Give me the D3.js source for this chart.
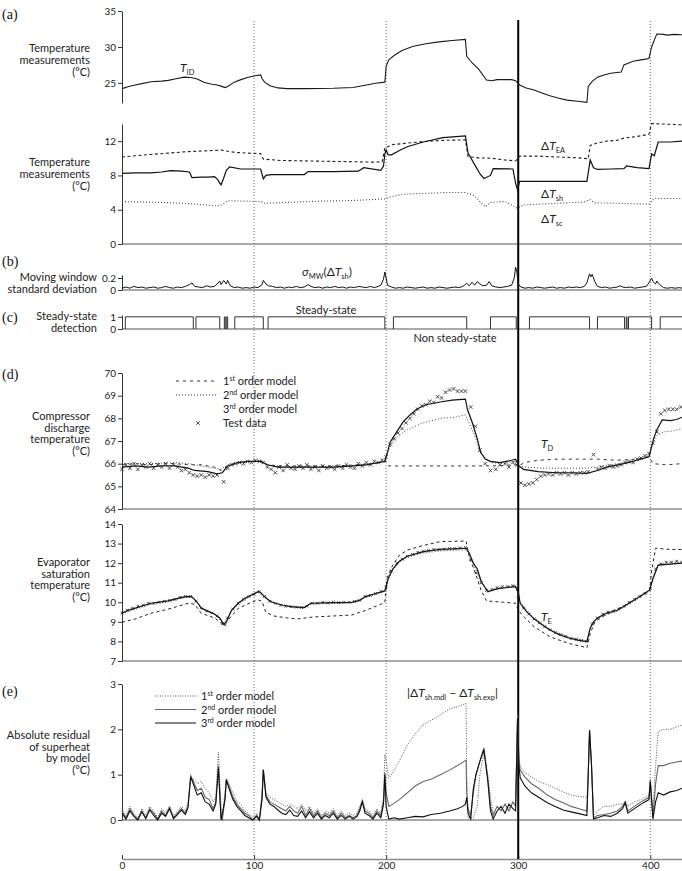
<!DOCTYPE html>
<html>
<head>
<meta charset="utf-8">
<script src="https://cdn.jsdelivr.net/npm/d3@7"></script>
<style>
body { margin: 0; background: #fff; }
.font { font-family: Lato, "Open Sans", sans-serif; fill: #222; }
.serif { font-family: "Liberation Serif", serif; fill: #111; font-size: 14px; }
.tick text { font-family: Lato, sans-serif; font-size: 10px; fill: #222; }
</style>
</head>
<body>
<svg id="chart" width="682" height="871"></svg>
<script>
// ---- data: [time (min), value] ----
const T_ID = [[0,24.2],[5,24.5],[10,24.7],[15,24.9],[22,25.15],[30,25.25],[35,25.35],[40,25.55],[47,25.8],[52,25.75],[57,25.55],[62,25.1],[67,24.85],[72,24.7],[75,24.55],[78,24.35],[80,24.5],[85,25.1],[90,25.45],[95,25.75],[100,25.95],[105,26.1],[106,25.6],[108,25.1],[112,24.6],[118,24.3],[125,24.2],[140,24.2],[160,24.25],[175,24.35],[185,24.7],[192,24.95],[199,25.1],[200,27.3],[202,28.2],[206,28.8],[212,29.5],[220,30.05],[230,30.45],[240,30.7],[250,30.9],[260,31.05],[261,28.7],[265,27.8],[270,26.9],[276,25.4],[280,25.3],[284,25.45],[295,25.45],[298,25.3],[301,24.7],[306,24.3],[312,24.0],[318,23.6],[324,23.2],[330,22.9],[337,22.6],[345,22.45],[352,22.3],[353,24.5],[356,25.2],[360,25.8],[365,26.1],[370,26.35],[378,26.5],[380,27.5],[387,28.0],[393,28.2],[399,28.4],[401,30.0],[404,31.4],[405,31.8],[410,31.75],[413,31.65],[418,31.75],[424,31.7]];

const DT_EA = [[0,10.15],[10,10.3],[22,10.45],[35,10.6],[47,10.75],[60,10.85],[75,10.95],[85,10.7],[95,10.6],[105,10.55],[107,9.9],[120,9.75],[136,9.7],[155,9.65],[175,9.6],[190,9.55],[197,9.6],[199,11.2],[205,11.6],[215,11.75],[228,11.95],[245,12.1],[260,12.15],[262,10.2],[270,10.05],[280,10.0],[290,9.8],[298,9.7],[301,10.25],[315,10.25],[330,10.15],[345,10.05],[353,9.95],[354.5,11.5],[360,11.8],[367,12.0],[375,12.1],[380,12.35],[390,12.55],[399,12.8],[401,14.05],[410,14.0],[424,13.9]];
const DT_SH = [[0,8.25],[10,8.3],[22,8.3],[30,8.4],[37,8.55],[45,8.5],[51,8.4],[53,7.75],[60,7.8],[65,7.8],[70,7.85],[72,7.6],[75,6.9],[77,7.7],[79,8.6],[81.5,9.0],[90,8.75],[105,8.75],[107,7.6],[109,8.0],[113,8.1],[125,8.1],[138,8.1],[141,8.45],[160,8.45],[179,8.5],[183,8.9],[196,8.6],[198,9.1],[199,10.5],[200,11.0],[201.5,10.4],[204,10.4],[210,10.9],[216,11.35],[228,11.9],[243,12.4],[260,12.6],[262,10.6],[268,9.0],[271,8.2],[274,7.65],[279,8.0],[281,8.8],[296,8.75],[298,7.1],[299.5,6.3],[301,7.3],[320,7.3],[340,7.3],[352,7.3],[354.5,9.8],[357,8.9],[360,8.7],[370,8.75],[380,8.8],[382,9.1],[390,8.9],[399,8.8],[401,10.5],[403,10.3],[406,11.9],[415,11.9],[424,12.0]];
const DT_SC = [[0,4.95],[15,4.9],[30,4.85],[47,4.75],[60,4.6],[72,4.45],[76,4.6],[80,5.05],[95,5.0],[105,4.95],[108,4.75],[125,4.85],[148,5.0],[170,5.05],[199,5.25],[202,5.45],[212,5.8],[228,5.9],[245,6.0],[260,6.0],[266,5.7],[275,4.35],[279,4.85],[290,4.95],[299,4.2],[304,4.55],[330,4.75],[350,4.9],[354,5.2],[358,4.8],[375,4.75],[399,4.65],[403,5.3],[424,5.3]];

const SIGMA = [[0,0.03],[3,0.05],[6,0.03],[9,0.06],[12,0.04],[15,0.05],[18,0.03],[21,0.04],[24,0.05],[27,0.03],[30,0.04],[33,0.06],[36,0.04],[39,0.03],[42,0.05],[45,0.04],[48,0.06],[51,0.09],[53,0.12],[55,0.06],[58,0.05],[61,0.04],[64,0.07],[67,0.05],[70,0.06],[72,0.1],[74,0.15],[75,0.09],[77,0.16],[79,0.1],[80,0.16],[82,0.07],[85,0.04],[88,0.05],[91,0.03],[94,0.04],[97,0.03],[100,0.05],[103,0.04],[106,0.09],[107,0.16],[109,0.1],[111,0.07],[114,0.06],[117,0.04],[120,0.05],[123,0.03],[126,0.05],[129,0.04],[132,0.06],[135,0.04],[138,0.05],[141,0.09],[143,0.06],[146,0.04],[149,0.05],[152,0.03],[155,0.05],[158,0.04],[161,0.06],[164,0.04],[167,0.05],[170,0.03],[173,0.05],[176,0.04],[179,0.06],[182,0.05],[185,0.04],[188,0.06],[191,0.04],[194,0.06],[196,0.08],[198,0.18],[199,0.3],[200,0.2],[201,0.08],[204,0.05],[207,0.03],[210,0.04],[213,0.03],[216,0.05],[219,0.04],[222,0.03],[225,0.04],[228,0.05],[231,0.03],[234,0.04],[237,0.03],[240,0.05],[243,0.04],[246,0.03],[249,0.04],[252,0.05],[255,0.04],[258,0.06],[261,0.11],[263,0.07],[265,0.13],[267,0.08],[269,0.14],[271,0.1],[273,0.07],[276,0.08],[278,0.14],[280,0.07],[283,0.05],[286,0.04],[289,0.05],[292,0.06],[295,0.08],[297,0.2],[298,0.38],[299,0.3],[300,0.1],[302,0.05],[305,0.03],[308,0.04],[311,0.03],[314,0.05],[317,0.04],[320,0.03],[323,0.04],[326,0.05],[329,0.03],[332,0.04],[335,0.03],[338,0.05],[341,0.04],[344,0.05],[347,0.04],[350,0.06],[352,0.12],[354,0.27],[355,0.22],[356,0.26],[358,0.14],[360,0.06],[363,0.04],[366,0.05],[369,0.03],[372,0.04],[375,0.05],[377,0.07],[379,0.05],[382,0.04],[385,0.05],[388,0.03],[391,0.04],[394,0.05],[397,0.06],[399,0.12],[401,0.2],[402,0.14],[404,0.1],[405,0.15],[407,0.09],[410,0.04],[413,0.03],[416,0.04],[419,0.03],[422,0.04],[424,0.03]];

// steady-state intervals [start, end]
const STEADY = [[2.5,54],[56,74],[77.5,78.2],[79.3,80],[85.4,107],[110.6,199],[205.5,261],[279,298.5],[308.5,354],[360,380.5],[381.8,382.4],[383.5,401],[407.5,424]];

const TD_M1 = [[0,65.95],[10,66.0],[20,65.95],[30,66.0],[40,66.0],[50,65.95],[60,65.95],[70,65.85],[75,65.7],[80,65.9],[88,66.05],[95,66.1],[105,66.1],[110,65.95],[120,65.9],[140,65.9],[160,65.9],[180,65.95],[195,66.05],[200,66.1],[202,65.9],[220,65.9],[240,65.9],[260,65.9],[280,65.9],[298,65.95],[300,65.9],[305,66.05],[315,66.15],[330,66.2],[345,66.2],[360,66.2],[375,66.15],[390,66.2],[399,66.3],[402,66.0],[412,65.95],[424,66.0]];
const TD_M2 = [[0,66.0],[20,66.0],[40,66.05],[50,66.0],[60,65.9],[70,65.8],[75,65.75],[80,65.95],[90,66.05],[100,66.1],[105,66.15],[110,65.95],[120,65.85],[140,65.85],[160,65.85],[180,65.95],[195,66.05],[199,66.15],[201,66.5],[205,66.95],[210,67.25],[216,67.5],[228,67.8],[241,68.0],[252,68.05],[260,68.15],[262,67.9],[265,67.5],[268,67.1],[271,66.5],[276,66.2],[280,66.05],[290,66.0],[298,66.1],[300,65.9],[305,65.85],[320,65.8],[340,65.8],[350,65.8],[360,65.85],[375,66.0],[390,66.15],[399,66.35],[402,66.9],[405,67.25],[410,67.4],[418,67.45],[424,67.55]];
const TD_M3 = [[0,65.85],[10,65.9],[20,65.85],[30,65.9],[40,65.9],[50,65.8],[55,65.7],[65,65.65],[72,65.55],[76,65.6],[80,65.9],[88,66.05],[95,66.1],[105,66.1],[110,65.95],[118,65.85],[130,65.85],[145,65.85],[160,65.85],[175,65.9],[185,65.95],[195,66.05],[199,66.1],[201,66.5],[203,66.95],[208,67.4],[213,67.85],[218,68.15],[223,68.4],[230,68.6],[241,68.72],[250,68.8],[260,68.85],[261.5,68.4],[265,67.85],[269,67.1],[271.5,66.5],[275,66.2],[279,66.1],[286,66.05],[295,66.15],[298,66.2],[300.5,65.9],[304,65.75],[315,65.65],[329,65.6],[340,65.6],[352,65.57],[360,65.7],[367,65.85],[380,66.0],[390,66.15],[399,66.3],[402.5,67.1],[405,67.5],[409,67.93],[415,67.9],[420,67.95],[424,68.05]];
const TD_TEST = [[0,65.75],[3,65.95],[6,65.8],[9,66.0],[12,65.75],[15,65.95],[18,65.85],[21,66.0],[24,65.8],[27,65.95],[30,65.85],[33,66.0],[36,65.8],[39,65.95],[42,65.85],[45,65.7],[48,65.75],[51,65.6],[54,65.5],[57,65.45],[60,65.5],[63,65.4],[66,65.5],[69,65.45],[72,65.5],[77,65.2],[80,65.8],[83,65.95],[86,66.0],[89,66.05],[92,66.0],[95,66.1],[98,66.05],[101,66.15],[104,66.1],[107,66.05],[110,65.85],[113,65.75],[116,65.6],[119,65.85],[122,65.7],[125,65.95],[128,65.8],[131,65.75],[134,65.9],[137,65.8],[140,65.95],[143,65.75],[146,65.85],[149,65.7],[152,65.9],[155,65.8],[158,65.85],[161,65.75],[164,65.9],[167,65.8],[170,65.95],[173,65.85],[176,65.8],[179,66.0],[182,65.9],[185,66.05],[188,65.95],[191,66.1],[194,66.05],[197,66.15],[200,66.3],[203,66.85],[206,67.1],[209,67.35],[212,67.55],[215,67.8],[218,68.0],[221,68.2],[224,68.4],[227,68.55],[230,68.6],[233,68.75],[236,68.7],[239,68.95],[242,68.9],[245,69.15],[248,69.25],[251,69.3],[254,69.2],[257,69.2],[260,69.2],[264,68.5],[267.5,67.65],[271,66.6],[275,66.0],[279,65.7],[283,65.75],[286,65.95],[290,66.0],[293,65.85],[296,66.05],[299,65.95],[302,65.15],[305,65.05],[308,65.1],[311,65.15],[314,65.3],[317,65.45],[320,65.5],[323,65.55],[326,65.5],[329,65.6],[332,65.55],[335,65.6],[338,65.5],[341,65.6],[344,65.55],[347,65.6],[350,65.6],[353,65.65],[357,66.4],[360,65.75],[363,65.85],[366,65.8],[369,65.9],[372,65.85],[375,65.9],[378,65.95],[381,66.05],[384,66.1],[387,66.05],[390,66.2],[393,66.25],[396,66.35],[399,66.45],[402,66.9],[405,67.4],[408,68.2],[411,68.35],[414,68.4],[417,68.4],[420,68.4],[423,68.5]];

const TE_M1 = [[0,8.98],[10,9.15],[22,9.44],[35,9.65],[50,9.95],[55,9.9],[60,9.44],[70,9.2],[77,8.85],[83,9.3],[88,9.69],[98,10.0],[103,10.12],[106,10.05],[109,9.49],[115,9.3],[125,9.2],[133,9.15],[145,9.25],[160,9.3],[174,9.35],[185,9.6],[196,9.9],[199,10.0],[201,11.3],[205,11.9],[210,12.4],[216,12.67],[228,12.9],[241,13.1],[260.5,13.13],[263,12.3],[268,11.4],[272,10.6],[276,10.07],[289,10.0],[298,9.95],[300,9.6],[303,9.35],[312,8.75],[324,8.24],[338,7.9],[352,7.68],[354.5,8.4],[358,9.0],[367,9.4],[380,9.82],[390,10.2],[399.5,10.58],[401,11.6],[404,12.76],[415,12.7],[424,12.7]];
const TE_M2 = [[0,9.4],[10,9.65],[22,9.9],[35,10.05],[45,10.2],[50,10.25],[53,10.25],[57,10.0],[60,9.7],[70,9.4],[77,8.9],[83,9.55],[88,9.9],[98,10.35],[103,10.5],[108,10.25],[116,9.95],[128,9.75],[138,9.72],[143,9.92],[174,9.98],[184,10.25],[199,10.55],[201.5,11.15],[205,11.65],[210,12.05],[216,12.3],[228,12.52],[241,12.62],[260.5,12.68],[263,12.45],[266,11.95],[272,11.0],[277,10.6],[286,10.75],[298,10.85],[301.5,10.0],[311.6,9.22],[324,8.62],[339,8.2],[352,8.02],[354.5,8.7],[360,9.2],[375,9.55],[385,9.95],[399.5,10.55],[402,11.3],[406,11.95],[415,12.05],[424,12.05]];
const TE_M3 = [[0,9.44],[5,9.6],[10,9.7],[22,9.95],[35,10.07],[45,10.25],[50,10.3],[53,10.28],[57,10.0],[60,9.7],[65,9.55],[70,9.4],[74,9.2],[77,8.87],[79,9.0],[83,9.6],[88,9.95],[93,10.2],[98,10.37],[103,10.54],[105,10.5],[108,10.28],[112,10.05],[116,9.95],[122,9.85],[128,9.78],[138,9.73],[143,9.95],[160,9.98],[174,10.0],[180,10.1],[184,10.28],[192,10.45],[199,10.58],[201.5,11.2],[205,11.7],[210,12.1],[216,12.35],[228,12.59],[241,12.7],[250,12.73],[260.5,12.76],[263,12.5],[266,12.0],[269,11.7],[272,11.06],[277,10.54],[282,10.65],[286,10.71],[298,10.8],[300,10.5],[301.5,9.95],[306,9.55],[311.6,9.18],[318,8.85],[324,8.58],[331,8.35],[339,8.16],[346,8.05],[352,7.99],[354.5,8.67],[357,9.0],[360,9.2],[367,9.45],[375,9.59],[379,9.75],[385,10.0],[392,10.3],[399.5,10.63],[402,11.2],[406,11.9],[415,11.95],[424,12.0]];
const TE_TEST = [[0,9.45],[4,9.6],[8,9.7],[12,9.8],[16,9.85],[20,9.95],[24,9.95],[28,10.0],[32,10.05],[36,10.1],[40,10.15],[44,10.25],[48,10.3],[52,10.3],[56,10.05],[60,9.7],[64,9.55],[68,9.45],[72,9.3],[76,8.9],[78,8.85],[80,9.2],[84,9.65],[88,9.95],[92,10.15],[96,10.3],[100,10.4],[104,10.55],[108,10.3],[112,10.05],[116,9.95],[120,9.85],[124,9.8],[128,9.78],[132,9.75],[136,9.73],[140,9.8],[144,9.95],[148,9.95],[152,10.0],[156,9.97],[160,10.0],[164,9.98],[168,10.0],[172,10.0],[176,10.05],[180,10.1],[184,10.3],[188,10.35],[192,10.45],[196,10.55],[200,10.8],[204,11.6],[208,12.0],[212,12.2],[216,12.35],[220,12.45],[224,12.55],[228,12.6],[232,12.65],[236,12.7],[240,12.7],[244,12.72],[248,12.75],[252,12.75],[256,12.78],[260,12.8],[264,12.2],[268,11.5],[272,11.0],[276,10.6],[280,10.65],[284,10.75],[288,10.8],[292,10.8],[296,10.85],[300,10.3],[304,9.7],[308,9.4],[312,9.15],[316,8.95],[320,8.75],[324,8.6],[328,8.45],[332,8.35],[336,8.25],[340,8.15],[344,8.1],[348,8.05],[352,8.0],[356,8.9],[360,9.2],[364,9.4],[368,9.5],[372,9.55],[376,9.65],[380,9.8],[384,10.0],[388,10.15],[392,10.3],[396,10.45],[400,10.7],[404,11.7],[408,11.95],[412,12.05],[416,12.05],[420,12.1],[424,12.05]];

const RES_M1 = [[0,0.25],[3,0.1],[6,0.3],[9,0.15],[12,0.05],[15,0.25],[18,0.1],[21,0.3],[24,0.2],[27,0.05],[30,0.25],[33,0.15],[36,0.3],[39,0.1],[42,0.2],[45,0.3],[48,0.2],[50,0.4],[52,0.95],[54,0.9],[57,0.8],[60,0.85],[63,0.7],[66,0.6],[69,0.4],[71,0.5],[73,1.5],[75,0.3],[76,0.1],[78,0.6],[79,0.92],[81,0.8],[84,0.6],[87,0.4],[90,0.35],[93,0.2],[96,0.15],[99,0.05],[102,0.15],[104,0.0],[106,0.6],[107,1.1],[109,0.6],[112,0.5],[115,0.45],[118,0.4],[121,0.35],[124,0.3],[127,0.35],[130,0.3],[133,0.25],[136,0.35],[139,0.2],[142,0.3],[145,0.15],[148,0.25],[151,0.1],[154,0.2],[157,0.15],[160,0.25],[163,0.1],[166,0.2],[169,0.1],[172,0.15],[175,0.1],[178,0.15],[180,0.3],[182,0.45],[184,0.25],[187,0.2],[190,0.1],[193,0.25],[196,0.15],[198,0.5],[199,1.45],[200,1.3],[202,0.92],[205,1.05],[210,1.3],[216,1.65],[222,1.9],[228,2.1],[234,2.2],[241,2.32],[248,2.45],[254,2.5],[260.5,2.57],[261,1.0],[262,0.05],[266,0.05],[269,0.3],[271,1.0],[274,1.5],[277,1.0],[279,0.5],[281,0.15],[284,0.3],[287,0.2],[290,0.35],[293,0.25],[296,0.4],[298,0.3],[299.5,2.3],[300.5,1.4],[301.5,1.18],[305,1.05],[310,0.95],[315.5,0.85],[322,0.78],[328,0.7],[334,0.62],[340,0.55],[346,0.52],[352,0.5],[353,1.0],[354,1.98],[355.5,1.2],[357,0.1],[360,0.2],[365,0.3],[370,0.3],[375,0.35],[379,0.35],[381,0.42],[383,0.3],[388,0.4],[393,0.45],[399,0.55],[400,0.8],[402,0.2],[404,1.2],[406,1.95],[410,2.0],[415,2.0],[420,2.05],[424,2.1]];
const RES_M2 = [[0,0.2],[3,0.05],[6,0.25],[9,0.1],[12,0.02],[15,0.2],[18,0.05],[21,0.25],[24,0.15],[27,0.02],[30,0.2],[33,0.1],[36,0.28],[39,0.05],[42,0.15],[45,0.25],[48,0.15],[50,0.3],[52,0.98],[54,0.85],[57,0.65],[60,0.7],[63,0.5],[66,0.45],[69,0.25],[71,0.4],[73,1.2],[75,0.05],[76,0.0],[78,0.5],[79,0.9],[81,0.75],[84,0.5],[87,0.35],[90,0.25],[93,0.15],[96,0.1],[99,0.0],[102,0.1],[104,0.0],[106,0.5],[107,1.12],[109,0.55],[112,0.4],[115,0.35],[118,0.3],[121,0.25],[124,0.2],[127,0.3],[130,0.2],[133,0.15],[136,0.3],[139,0.1],[142,0.25],[145,0.1],[148,0.2],[151,0.05],[154,0.15],[157,0.1],[160,0.2],[163,0.05],[166,0.15],[169,0.05],[172,0.1],[175,0.05],[178,0.1],[180,0.25],[182,0.42],[184,0.2],[187,0.15],[190,0.05],[193,0.2],[196,0.1],[198,0.4],[199,1.05],[200,0.6],[202,0.3],[205,0.35],[210,0.45],[216,0.6],[222,0.75],[228,0.85],[234,0.9],[241,1.0],[248,1.1],[254,1.2],[260.5,1.32],[261,0.6],[262,0.25],[264,0.1],[266,0.6],[268,1.0],[271,1.3],[274,1.59],[277,0.9],[279,0.3],[281,0.1],[284,0.3],[287,0.2],[290,0.35],[293,0.2],[296,0.4],[298,0.3],[299.5,2.32],[300.5,1.3],[301.5,1.1],[305,0.95],[310,0.8],[315.5,0.7],[322,0.55],[328,0.45],[334,0.38],[340,0.3],[346,0.25],[352,0.2],[353,1.0],[354,1.98],[355.5,1.2],[357,0.05],[360,0.1],[365,0.12],[370,0.15],[375,0.2],[379,0.3],[381,0.4],[383,0.2],[388,0.3],[393,0.4],[399,0.5],[400,0.9],[402,0.05],[404,0.8],[406,1.2],[410,1.2],[415,1.25],[420,1.28],[424,1.3]];
const RES_M3 = [[0,0.15],[3,0.02],[6,0.2],[9,0.08],[12,0.0],[15,0.18],[18,0.03],[21,0.22],[24,0.1],[27,0.0],[30,0.15],[33,0.08],[36,0.25],[39,0.03],[42,0.12],[45,0.22],[48,0.12],[50,0.28],[52,0.95],[54,0.8],[57,0.55],[60,0.6],[63,0.4],[66,0.35],[69,0.2],[71,0.35],[73,1.15],[75,0.0],[78,0.45],[79,0.88],[81,0.7],[84,0.45],[87,0.3],[90,0.2],[93,0.1],[96,0.05],[99,0.0],[102,0.08],[104,0.0],[106,0.45],[107,1.1],[109,0.5],[112,0.35],[115,0.3],[118,0.22],[121,0.15],[124,0.12],[127,0.22],[130,0.1],[133,0.08],[136,0.2],[139,0.05],[142,0.18],[145,0.05],[148,0.15],[151,0.02],[154,0.1],[157,0.05],[160,0.15],[163,0.02],[166,0.1],[169,0.02],[172,0.08],[175,0.02],[178,0.08],[180,0.2],[182,0.4],[184,0.15],[187,0.1],[190,0.02],[193,0.15],[196,0.05],[198,0.35],[199,1.0],[200,0.3],[202,0.02],[206,0.05],[210,0.02],[216,0.05],[222,0.08],[228,0.07],[234,0.12],[241,0.15],[248,0.2],[254,0.25],[258,0.3],[260,0.35],[261,0.5],[262,0.15],[264,0.02],[266,0.7],[268,1.0],[271,1.3],[274,1.55],[277,0.85],[279,0.2],[281,0.02],[284,0.2],[287,0.3],[290,0.15],[293,0.35],[296,0.25],[298,0.2],[299.5,2.25],[300.5,1.2],[301.5,0.93],[305,0.75],[310,0.6],[315.5,0.5],[322,0.38],[328,0.3],[334,0.22],[340,0.18],[346,0.14],[352,0.1],[353,1.0],[354,1.98],[355.5,1.2],[357,0.02],[360,0.05],[365,0.1],[370,0.08],[375,0.15],[379,0.25],[381,0.38],[383,0.15],[388,0.25],[393,0.35],[399,0.45],[400,0.85],[402,0.02],[404,0.4],[406,0.6],[410,0.55],[415,0.62],[420,0.65],[424,0.7]];

const X_TICKS = [0, 100, 200, 300, 400];
const MARK_LINES = [100, 200, 400];   // dotted verticals
const MAIN_LINE = 300;                // solid vertical

// ---- layout ----
const SVG_WIDTH = 682;
const AXIS_X = 122;
const LABEL_RIGHT = 90;
const GRID_COLOR = "#8c8c8c";

var svg = d3.select("#chart");
var x = d3.scaleLinear().domain([0, 424]).range([AXIS_X, SVG_WIDTH]);

var panels = {
    a: { y: d3.scaleLinear().domain([22.2, 35]).range([103, 11]), ticks: [25, 30, 35], base: false },
    t: { y: d3.scaleLinear().domain([0, 14]).range([244, 124]), ticks: [0, 4, 8, 12], base: true },
    b: { y: d3.scaleLinear().domain([0, 0.25]).range([290, 275]), ticks: [0, 0.2], base: true },
    c: { y: d3.scaleLinear().domain([0, 1.15]).range([329, 315]), ticks: [0, 1], base: true },
    d1: { y: d3.scaleLinear().domain([64, 70]).range([509, 373]), ticks: [64, 65, 66, 67, 68, 69, 70], base: true },
    d2: { y: d3.scaleLinear().domain([7, 14]).range([661, 524]), ticks: [7, 8, 9, 10, 11, 12, 13, 14], base: true },
    e: { y: d3.scaleLinear().domain([0, 3]).range([820, 684]), ticks: [0, 1, 2, 3], base: true }
};

// baselines and y axes
Object.keys(panels).forEach(function(k) {
    var p = panels[k];
    if (p.base) {
        svg.append("line")
            .attr("x1", AXIS_X).attr("x2", SVG_WIDTH)
            .attr("y1", p.y.range()[0]).attr("y2", p.y.range()[0])
            .attr("stroke", GRID_COLOR).attr("stroke-width", 1.6);
    }
    var ax = svg.append("g")
        .attr("transform", "translate(" + AXIS_X + ",0)")
        .call(d3.axisLeft(p.y).tickValues(p.ticks).tickSize(4).tickSizeOuter(0)
              .tickFormat(d3.format("~g")));
    ax.select(".domain").attr("stroke", "#333");
    ax.selectAll(".tick line").attr("stroke", "#333");
    ax.selectAll(".tick text").attr("x", -6);
});

// bottom time axis
var xAxis = svg.append("g")
    .attr("transform", "translate(0,859)")
    .call(d3.axisBottom(x).tickValues(X_TICKS).tickSize(-4).tickSizeOuter(0));
xAxis.select(".domain").attr("stroke", GRID_COLOR).attr("stroke-width", 1.6);
xAxis.selectAll(".tick line").attr("stroke", "#333");
xAxis.selectAll(".tick text").attr("y", 3);
svg.append("text").classed("font", true)
    .attr("x", 402).attr("y", 882).attr("text-anchor", "middle")
    .style("font-size", "11px").text("Time (min)");

// vertical event markers
svg.selectAll("markLine").data(MARK_LINES).enter().append("line")
    .attr("x1", function(d) { return x(d); }).attr("x2", function(d) { return x(d); })
    .attr("y1", 21).attr("y2", 858)
    .attr("stroke", "#6a6a6a").attr("stroke-width", 1).attr("stroke-dasharray", "1,2");
svg.append("line")
    .attr("x1", x(MAIN_LINE)).attr("x2", x(MAIN_LINE))
    .attr("y1", 20).attr("y2", 859)
    .attr("stroke", "#000").attr("stroke-width", 2);

// series helper
function drawSeries(data, yScale, opts) {
    var gen = d3.line().x(function(d) { return x(d[0]); }).y(function(d) { return yScale(d[1]); });
    svg.append("path")
        .datum(data)
        .attr("d", gen)
        .attr("fill", "none")
        .attr("stroke", opts.color || "#111")
        .attr("stroke-width", opts.width || 1)
        .attr("stroke-dasharray", opts.dash || null);
}
function drawCrosses(data, yScale, size) {
    var s = size || 1.8;
    svg.append("path")
        .attr("d", data.map(function(d) {
            var cx = x(d[0]), cy = yScale(d[1]);
            return "M" + (cx - s) + "," + (cy - s) + "L" + (cx + s) + "," + (cy + s) +
                   "M" + (cx - s) + "," + (cy + s) + "L" + (cx + s) + "," + (cy - s);
        }).join(""))
        .attr("stroke", "#222").attr("stroke-width", 0.8).attr("fill", "none");
}

// (a)
drawSeries(T_ID, panels.a.y, { width: 1.1, color: "#1a1a1a" });
drawSeries(DT_EA, panels.t.y, { width: 1.1, dash: "3,2.5", color: "#222" });
drawSeries(DT_SH, panels.t.y, { width: 1.2, color: "#111" });
drawSeries(DT_SC, panels.t.y, { width: 1.1, dash: "1,2", color: "#444" });

// (b)
drawSeries(SIGMA, panels.b.y, { width: 1, color: "#111" });

// (c) steady-state steps
STEADY.forEach(function(s) {
    var y0 = panels.c.y(0), y1 = panels.c.y(1);
    var dstr = "M" + x(s[0]) + "," + y0 + "L" + x(s[0]) + "," + y1 + "L" + x(s[1]) + "," + y1;
    if (s[1] < 424) dstr += "L" + x(s[1]) + "," + y0;
    svg.append("path").attr("d", dstr).attr("fill", "none")
        .attr("stroke", "#333").attr("stroke-width", 1);
});

// (d) discharge temperature
drawSeries(TD_M1, panels.d1.y, { width: 1, dash: "3,4", color: "#333" });
drawSeries(TD_M2, panels.d1.y, { width: 1, dash: "1,2", color: "#444" });
drawSeries(TD_M3, panels.d1.y, { width: 1.2, color: "#111" });
drawCrosses(TD_TEST, panels.d1.y);

// (d) evaporator temperature
drawSeries(TE_M1, panels.d2.y, { width: 1, dash: "3,3", color: "#222" });
drawSeries(TE_M2, panels.d2.y, { width: 1, dash: "1,2", color: "#444" });
drawSeries(TE_M3, panels.d2.y, { width: 1.2, color: "#111" });
drawCrosses(TE_TEST, panels.d2.y, 1.4);

// (e) residuals
drawSeries(RES_M1, panels.e.y, { width: 1, dash: "1,1.5", color: "#555" });
drawSeries(RES_M2, panels.e.y, { width: 1.1, color: "#666" });
drawSeries(RES_M3, panels.e.y, { width: 1.1, color: "#111" });

// ---- texts ----
function label(lines, y0, step, right) {
    lines.forEach(function(t, i) {
        svg.append("text").classed("font", true)
            .attr("x", right || LABEL_RIGHT).attr("y", y0 + i * step)
            .attr("text-anchor", "end").style("font-size", "11px").text(t);
    });
}
label(["Temperature", "measurements", "(°C)"], 52, 12);
label(["Temperature", "measurements", "(°C)"], 166, 12);
label(["Moving window", "standard deviation"], 281, 12, 97);
label(["Steady-state", "detection"], 320, 12, 97);
label(["Compressor", "discharge", "temperature", "(°C)"], 420, 11.7);
label(["Evaporator", "saturation", "temperature", "(°C)"], 566, 11.7);
label(["Absolute residual", "of superheat", "by model", "(°C)"], 739, 11.7);

[["(a)", 19], ["(b)", 266], ["(c)", 322], ["(d)", 379], ["(e)", 696]].forEach(function(p) {
    svg.append("text").classed("serif", true).attr("x", 2).attr("y", p[1]).text(p[0]);
});

// variable name with subscript
function symbol(xPos, yPos, prefix, main, sub, size) {
    var fs = size || 12;
    var t = svg.append("text").classed("font", true)
        .attr("x", xPos).attr("y", yPos).style("font-size", fs + "px");
    if (prefix) t.append("tspan").text(prefix);
    t.append("tspan").style("font-style", "italic").text(main);
    t.append("tspan").attr("dy", 3).style("font-size", (fs * 0.62) + "px").text(sub);
    return t;
}
symbol(180, 72, "", "T", "ID");
symbol(541, 150, "Δ", "T", "EA");
symbol(541, 198, "Δ", "T", "sh");
symbol(541, 223, "Δ", "T", "sc");
symbol(541, 448, "", "T", "D");
symbol(541, 621, "", "T", "E");

// sigma label
var sig = svg.append("text").classed("font", true).attr("x", 302).attr("y", 276).style("font-size", "12px");
sig.append("tspan").style("font-style", "italic").text("σ");
sig.append("tspan").attr("dy", 3).style("font-size", "7.5px").text("MW");
sig.append("tspan").attr("dy", -3).text("(Δ");
sig.append("tspan").style("font-style", "italic").text("T");
sig.append("tspan").attr("dy", 3).style("font-size", "7.5px").text("sh");
sig.append("tspan").attr("dy", -3).text(")");

// residual label
var res = svg.append("text").classed("font", true).attr("x", 407).attr("y", 697).style("font-size", "12px");
res.append("tspan").text("|Δ");
res.append("tspan").style("font-style", "italic").text("T");
res.append("tspan").attr("dy", 3).style("font-size", "7.5px").text("sh.mdl");
res.append("tspan").attr("dy", -3).text(" − Δ");
res.append("tspan").style("font-style", "italic").text("T");
res.append("tspan").attr("dy", 3).style("font-size", "7.5px").text("sh.exp");
res.append("tspan").attr("dy", -3).text("|");

svg.append("text").classed("font", true).attr("x", 326).attr("y", 314)
    .attr("text-anchor", "middle").style("font-size", "11px").text("Steady-state");
svg.append("text").classed("font", true).attr("x", 455).attr("y", 342)
    .attr("text-anchor", "middle").style("font-size", "11px").text("Non steady-state");

// legends
function ordinal(g, xPos, yPos, num, sup, rest) {
    var t = g.append("text").classed("font", true).attr("x", xPos).attr("y", yPos).style("font-size", "11px");
    t.append("tspan").text(num);
    t.append("tspan").attr("dy", -4).style("font-size", "7px").text(sup);
    t.append("tspan").attr("dy", 4).text(rest);
}
var legD = svg.append("g");
var legDItems = [["1", "st", " order model", "3,4"], ["2", "nd", " order model", "1,2"], ["3", "rd", " order model", null]];
legDItems.forEach(function(it, i) {
    var yy = 381 + i * 14;
    if (it[3]) {
        legD.append("line").attr("x1", 176).attr("x2", 218).attr("y1", yy).attr("y2", yy)
            .attr("stroke", "#333").attr("stroke-dasharray", it[3]);
    }
    ordinal(legD, 223, yy + 4, it[0], it[1], it[2]);
});
drawCrosses([[57.5, 66]], d3.scaleLinear().domain([66, 67]).range([423, 422]), 1.8);
legD.append("text").classed("font", true).attr("x", 223).attr("y", 427)
    .style("font-size", "11px").text("Test data");

var legE = svg.append("g");
var legEItems = [["1", "st", " order model", "1,1.5", "#555"], ["2", "nd", " order model", null, "#666"], ["3", "rd", " order model", null, "#111"]];
legEItems.forEach(function(it, i) {
    var yy = 696 + i * 13.5;
    legE.append("line").attr("x1", 155).attr("x2", 196).attr("y1", yy).attr("y2", yy)
        .attr("stroke", it[4]).attr("stroke-width", 1.1).attr("stroke-dasharray", it[3]);
    ordinal(legE, 201, yy + 4, it[0], it[1], it[2]);
});
</script>
</body>
</html>
